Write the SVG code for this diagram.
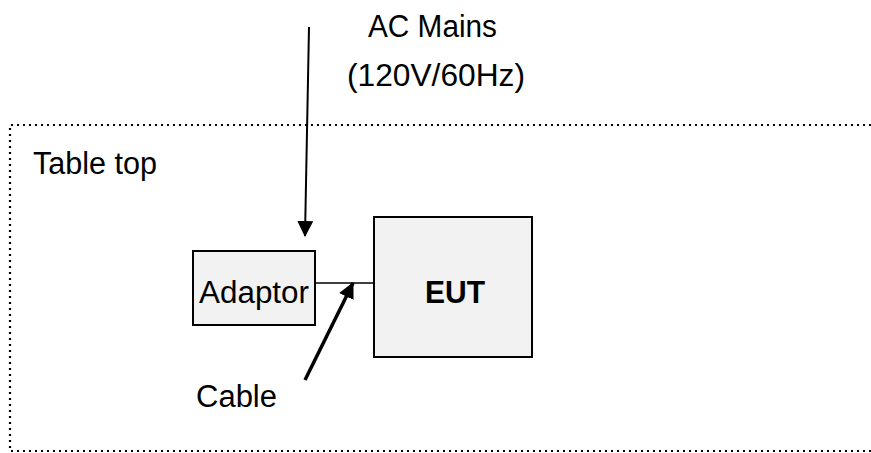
<svg xmlns="http://www.w3.org/2000/svg" width="871" height="453" viewBox="0 0 871 453">
<style>
text{font-family:"Liberation Sans",Arial,sans-serif;font-size:31px;fill:#000}
.box{fill:#f2f2f2;stroke:#000;stroke-width:2}
.dot{fill:none;stroke:#000;stroke-width:2.2;stroke-dasharray:2 4}
</style>
<defs>
<marker id="ah" markerUnits="userSpaceOnUse" markerWidth="16" markerHeight="16" viewBox="0 0 16 16" refX="15" refY="8" orient="auto">
<path d="M0,0 L16,8 L0,16 Z" fill="#000"/>
</marker>
</defs>
<g id="tabletop">
<path class="dot" d="M871,125 H10 V451 H871"/>
<text x="33" y="174" textLength="124" lengthAdjust="spacingAndGlyphs">Table top</text>
</g>
<g id="acmains">
<text x="368" y="37" textLength="129" lengthAdjust="spacingAndGlyphs">AC Mains</text>
<text x="347" y="86" textLength="178" lengthAdjust="spacingAndGlyphs">(120V/60Hz)</text>
</g>
<g id="adaptor">
<rect class="box" x="193" y="251" width="122" height="74"/>
<text x="199" y="303" textLength="110" lengthAdjust="spacingAndGlyphs">Adaptor</text>
</g>
<g id="eut">
<rect class="box" x="374" y="217" width="158" height="140"/>
<text x="425" y="303" font-weight="bold" textLength="60" lengthAdjust="spacingAndGlyphs">EUT</text>
</g>
<g id="cablelabel">
<text x="196" y="407">Cable</text>
</g>
<g id="connectors">
<line x1="309" y1="27" x2="305" y2="236" stroke="#000" stroke-width="2" marker-end="url(#ah)"/>
<line x1="315" y1="283" x2="374" y2="283" stroke="#000" stroke-width="1.5"/>
<line x1="305" y1="380" x2="353" y2="283" stroke="#000" stroke-width="3.5" marker-end="url(#ah)"/>
</g>
</svg>
